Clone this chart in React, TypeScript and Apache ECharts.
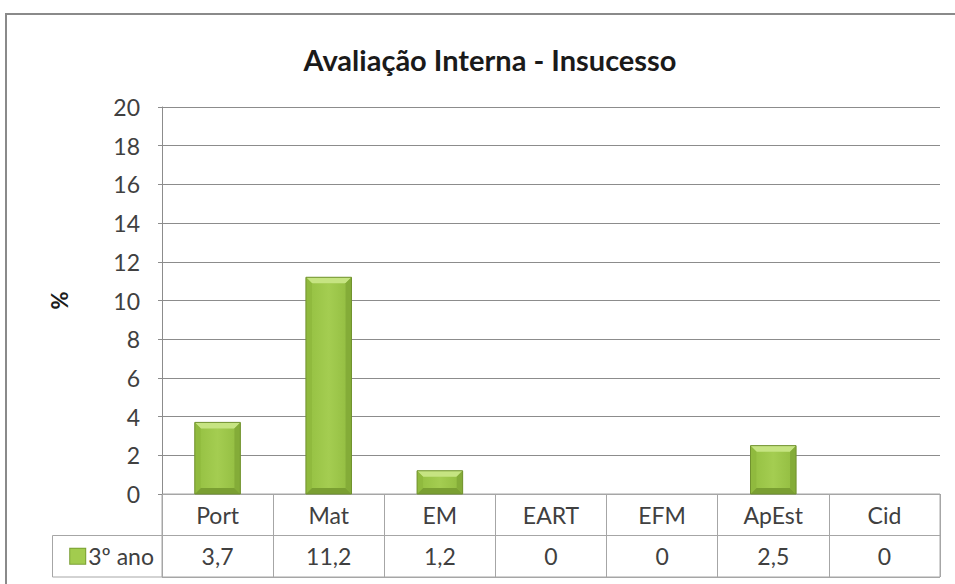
import React, { useEffect, useRef } from "react";
import * as echarts from "echarts";

const categories = ["Port", "Mat", "EM", "EART", "EFM", "ApEst", "Cid"];
const values3ano = [3.7, 11.2, 1.2, 0, 0, 2.5, 0];
const seriesName = "3º ano";
const chartTitle = "Avaliação Interna - Insucesso";
const yAxisName = "%";
const yMin = 0;
const yMax = 20;
const yInterval = 2;
const tableRows = ["cat", "val"];

const FONT = "Lato, 'Open Sans', sans-serif";
const TEXT_COLOR = "#404040";
const FS = 23;

function fmt(v: number): string {
  return String(v).replace(".", ",");
}

export default function App() {
  const ref = useRef<HTMLDivElement>(null);

  useEffect(() => {
    if (!ref.current) return;
    const chart = echarts.init(ref.current, undefined, { renderer: "svg" });

    const barRender = (params: any, api: any) => {
      const v = api.value(1);
      if (!v) return null;
      const top = api.coord([api.value(0), v]);
      const base = api.coord([api.value(0), 0]);
      const band = api.size([1, 0])[0];
      const w = band * 0.41;
      const l = top[0] - w / 2;
      const t = top[1];
      const h = base[1] - t;
      const b = Math.min(6, h / 2);
      const r = l + w;
      const btm = t + h;
      return {
        type: "group",
        children: [
          {
            type: "rect",
            shape: { x: l, y: t, width: w, height: h },
            style: { fill: "#9cc64a" },
          },
          {
            type: "rect",
            shape: { x: l + b, y: t + b, width: w - 2 * b, height: h - 2 * b },
            style: {
              fill: new echarts.graphic.LinearGradient(0, 0, 1, 0, [
                { offset: 0, color: "#98c345" },
                { offset: 0.5, color: "#a4cd51" },
                { offset: 1, color: "#96c044" },
              ]),
            },
          },
          {
            type: "polygon",
            shape: { points: [[l, t], [r, t], [r - b, t + b], [l + b, t + b]] },
            style: { fill: "#c6e482" },
          },
          {
            type: "polygon",
            shape: { points: [[l, t], [l + b, t + b], [l + b, btm - b], [l, btm]] },
            style: { fill: "#90ba3e" },
          },
          {
            type: "polygon",
            shape: { points: [[r, t], [r - b, t + b], [r - b, btm - b], [r, btm]] },
            style: { fill: "#84ac38" },
          },
          {
            type: "polygon",
            shape: { points: [[l, btm], [l + b, btm - b], [r - b, btm - b], [r, btm]] },
            style: { fill: "#7a9f32" },
          },
          {
            type: "rect",
            shape: { x: l, y: t, width: w, height: h },
            style: { fill: "none", stroke: "#71922f", lineWidth: 1 },
          },
        ],
      };
    };

    const textRender = (params: any, api: any) => {
      const p = api.coord([api.value(0), api.value(1)]);
      const idx = params.dataIndex;
      const isCat = api.value(1) === 0;
      const txt = isCat ? categories[idx] : fmt(values3ano[idx]);
      return {
        type: "text",
        x: p[0],
        y: p[1],
        style: {
          text: txt,
          fill: TEXT_COLOR,
          fontSize: FS,
          fontFamily: FONT,
          align: "center",
          verticalAlign: "middle",
          textAlign: "center",
          textVerticalAlign: "middle",
        },
      };
    };

    chart.setOption({
      animation: false,
      backgroundColor: "#ffffff",
      title: {
        text: chartTitle,
        left: 485,
        top: 40,
        textAlign: "center",
        textStyle: {
          fontFamily: FONT,
          fontSize: 29,
          fontWeight: "bold",
          color: "#1a1a1a",
        },
      },
      graphic: [
        {
          type: "rect",
          shape: { x: 6, y: 14, width: 1000, height: 700 },
          style: { fill: "none", stroke: "#8a8a8a", lineWidth: 2 },
          silent: true,
        },
        {
          type: "rect",
          shape: { x: 52.5, y: 535.5, width: 110, height: 41.5 },
          style: { fill: "none", stroke: "#a6a6a6", lineWidth: 1 },
          silent: true,
        },
      ],
      grid: [
        { left: 162, right: 15, top: 107, bottom: 90 },
        {
          left: 162,
          right: 15,
          top: 494,
          bottom: 7,
          show: true,
          borderColor: "#a6a6a6",
          borderWidth: 1,
        },
      ],
      xAxis: [
        {
          type: "category",
          gridIndex: 0,
          data: categories,
          axisLine: { show: true, lineStyle: { color: "#a6a6a6" } },
          axisTick: { show: false },
          axisLabel: { show: false },
          splitLine: { show: false },
        },
        {
          type: "category",
          gridIndex: 1,
          data: categories,
          axisLine: { show: false },
          axisTick: { show: false },
          axisLabel: { show: false },
          splitLine: { show: true, interval: 0, lineStyle: { color: "#a6a6a6" } },
        },
      ],
      yAxis: [
        {
          type: "value",
          gridIndex: 0,
          min: yMin,
          max: yMax,
          interval: yInterval,
          name: yAxisName,
          nameLocation: "middle",
          nameRotate: 90,
          nameGap: 92,
          nameTextStyle: { fontFamily: FONT, fontSize: 22, fontWeight: "bold", color: "#1a1a1a" },
          axisLine: { show: true, lineStyle: { color: "#8c8c8c" } },
          axisTick: { show: true, length: 4, lineStyle: { color: "#8c8c8c" } },
          axisLabel: { fontFamily: FONT, fontSize: FS, color: TEXT_COLOR, margin: 22 },
          splitLine: { show: true, lineStyle: { color: "#8c8c8c" } },
        },
        {
          type: "category",
          gridIndex: 1,
          data: tableRows,
          inverse: true,
          axisLine: { show: false },
          axisTick: { show: false },
          axisLabel: {
            show: true,
            interval: 0,
            margin: 8,
            formatter: (v: string) => (v === "val" ? "{sw|}{t|" + seriesName + "}" : ""),
            rich: {
              sw: {
                width: 15,
                height: 15,
                backgroundColor: "#a2cc4e",
                borderColor: "#7a9f32",
                borderWidth: 1,
              },
              t: {
                fontFamily: FONT,
                fontSize: FS,
                color: TEXT_COLOR,
                padding: [0, 0, 0, 3],
              },
            },
          },
          splitLine: { show: true, interval: 0, lineStyle: { color: "#a6a6a6" } },
        },
      ],
      series: [
        {
          type: "custom",
          name: seriesName,
          xAxisIndex: 0,
          yAxisIndex: 0,
          renderItem: barRender,
          data: values3ano.map((v, i) => [i, v]),
          z: 5,
        },
        {
          type: "custom",
          name: "tableText",
          xAxisIndex: 1,
          yAxisIndex: 1,
          renderItem: textRender,
          data: categories.map((c, i) => [i, 0]),
          silent: true,
        },
        {
          type: "custom",
          name: "tableValues",
          xAxisIndex: 1,
          yAxisIndex: 1,
          renderItem: textRender,
          data: values3ano.map((v, i) => [i, 1]),
          silent: true,
        },
      ],
    });

    return () => chart.dispose();
  }, []);

  return (
    <div
      ref={ref}
      style={{ position: "fixed", left: 0, top: 0, width: 955, height: 584 }}
    />
  );
}
